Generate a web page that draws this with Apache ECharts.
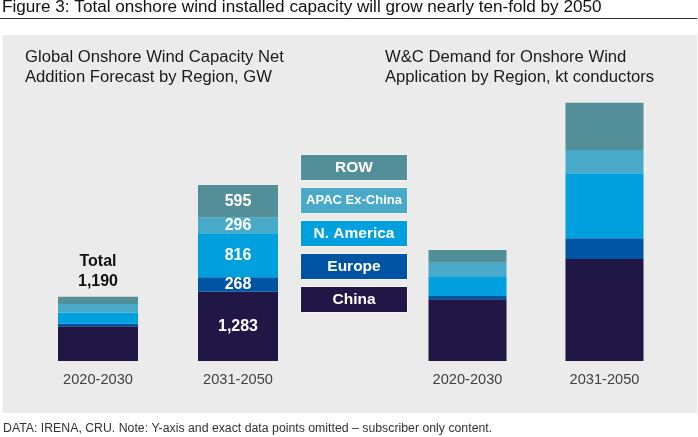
<!DOCTYPE html>
<html><head><meta charset="utf-8">
<script src="https://cdn.jsdelivr.net/npm/echarts@6/dist/echarts.min.js"></script>
<style>html,body{margin:0;padding:0;background:#fff}#c{width:698px;height:437px}</style>
</head><body><div id="c"></div>
<script>
// ---- data ----
const categories = ['2020-2030', '2031-2050'];
const regions = ['China', 'Europe', 'N. America', 'APAC Ex-China', 'ROW'];
// Global onshore wind capacity net addition, GW
const capChina    = [645, 1283];
const capEurope   = [45, 268];
const capNAmerica = [210, 816];
const capAPAC     = [155, 296];
const capROW      = [135, 595];
// W&C demand, kt conductors (estimated from bar heights, not published)
const wcChina    = [617, 1020];
const wcEurope   = [33, 207];
const wcNAmerica = [190, 650];
const wcAPAC     = [143, 233];
const wcROW      = [127, 473];

const regionColors = ['#201747', '#0054a4', '#00a0df', '#48aac8', '#538f98'];
const FONT = '"Liberation Sans", Arial, sans-serif';

const capSeries = [capChina, capEurope, capNAmerica, capAPAC, capROW];
const wcSeries = [wcChina, wcEurope, wcNAmerica, wcAPAC, wcROW];
const totalFirst = capSeries.reduce((s, a) => s + a[0], 0);
const fmt = v => v.toLocaleString('en-US');

const series = [];
capSeries.forEach((arr, i) => {
  series.push({
    type: 'bar', name: regions[i], xAxisIndex: 0, yAxisIndex: 0, stack: 'cap',
    barWidth: 80, itemStyle: { color: regionColors[i] },
    data: arr.map((v, j) => {
      if (j === 1) {
        return { value: v, label: { show: true, position: 'inside', color: '#fff', fontWeight: 'bold', fontSize: 16, fontFamily: FONT, formatter: fmt(v) } };
      }
      if (i === capSeries.length - 1) {
        return { value: v, label: { show: true, position: 'top', distance: 5, color: '#111', fontWeight: 'bold', fontSize: 16, lineHeight: 20, fontFamily: FONT, formatter: 'Total\n' + fmt(totalFirst) } };
      }
      return v;
    })
  });
});
wcSeries.forEach((arr, i) => {
  series.push({
    type: 'bar', name: regions[i] + ' W&C', xAxisIndex: 1, yAxisIndex: 1, stack: 'wc',
    barWidth: 78, itemStyle: { color: regionColors[i] }, data: arr
  });
});

// legend boxes (top to bottom: ROW ... China)
const legendGraphics = [];
const boxTop = 154, boxH = 26, boxGap = 33;
regions.slice().reverse().forEach((name, k) => {
  const ci = regions.length - 1 - k;
  legendGraphics.push({
    type: 'rect', left: 300, top: boxTop + k * boxGap,
    shape: { width: 107, height: boxH },
    style: { fill: regionColors[ci], stroke: '#f4f4f4', lineWidth: 1 },
    textContent: {
      style: { text: name, fill: '#fff', fontWeight: 'bold', fontSize: name.length > 10 ? 13 : 15.5, fontFamily: FONT }
    },
    textConfig: { position: 'inside' }
  });
});

const xAxisCommon = {
  type: 'category', data: categories,
  axisLine: { show: false }, axisTick: { show: false },
  axisLabel: { color: '#404040', fontSize: 14.6, margin: 11, fontFamily: FONT }
};

const chart = echarts.init(document.getElementById('c'));
chart.setOption({
  animation: false,
  backgroundColor: '#fff',
  grid: [
    { left: 28, width: 280, top: 91, height: 270 },
    { left: 399, width: 274, top: 61, height: 300 }
  ],
  xAxis: [Object.assign({ gridIndex: 0 }, xAxisCommon), Object.assign({ gridIndex: 1 }, xAxisCommon)],
  yAxis: [
    { gridIndex: 0, type: 'value', min: 0, max: 5000, show: false },
    { gridIndex: 1, type: 'value', min: 0, max: 3000, show: false }
  ],
  graphic: [
    { type: 'rect', z: -10, left: 3, top: 35, shape: { width: 694, height: 378 }, style: { fill: '#ebebeb' } },
    { type: 'text', x: 2, y: 0, scaleX: 1.07, style: { text: 'Figure 3: Total onshore wind installed capacity will grow nearly ten-fold by 2050', fill: '#111', fontSize: 16, fontFamily: FONT } },
    { type: 'line', shape: { x1: 0, y1: 18.5, x2: 697, y2: 18.5 }, style: { stroke: '#333', lineWidth: 1 } },
    { type: 'text', x: 25, y: 48, scaleX: 1.04, style: { text: 'Global Onshore Wind Capacity Net\nAddition Forecast by Region, GW', fill: '#1a1a1a', fontSize: 16, lineHeight: 19.5, fontFamily: FONT } },
    { type: 'text', x: 385, y: 48, scaleX: 1.04, style: { text: 'W&C Demand for Onshore Wind\nApplication by Region, kt conductors', fill: '#1a1a1a', fontSize: 16, lineHeight: 19.5, fontFamily: FONT } },
    { type: 'text', x: 3, y: 423, style: { text: 'DATA: IRENA, CRU. Note: Y-axis and exact data points omitted \u2013 subscriber only content.', fill: '#333', fontSize: 12.3, fontFamily: FONT } }
  ].concat(legendGraphics),
  series: series
});
</script>
</body></html>
